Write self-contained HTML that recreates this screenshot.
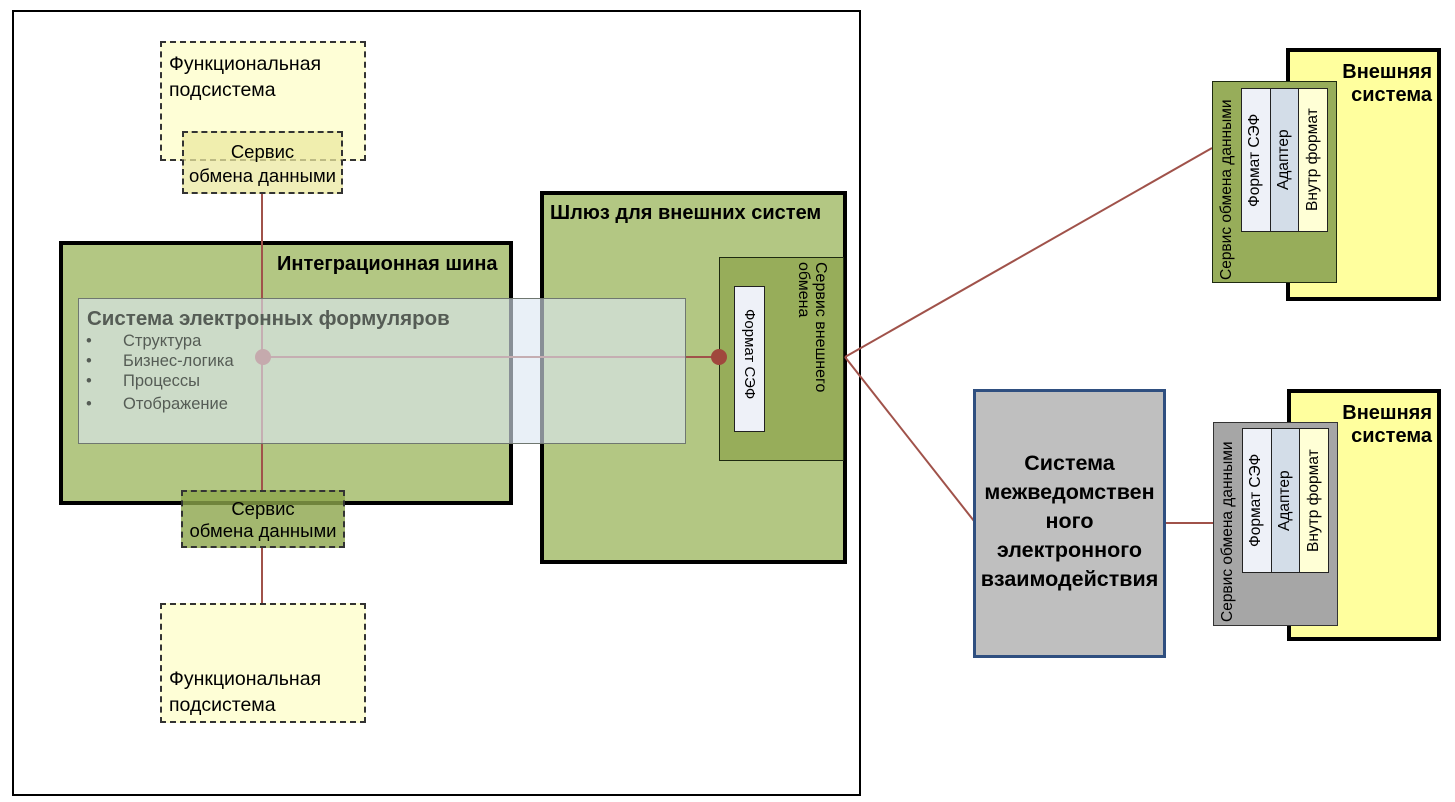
<!DOCTYPE html>
<html><head><meta charset="utf-8"><style>
body{margin:0;width:1455px;height:802px;background:#fff;position:relative;overflow:hidden;font-family:"Liberation Sans",sans-serif;}
.a{position:absolute;box-sizing:border-box;}
.vt{writing-mode:vertical-rl;}
.vb{writing-mode:vertical-rl;transform:rotate(180deg);}
.dash{border:2px dashed #333;}
</style></head><body>
<div class="a" style="left:12px;top:10px;width:849px;height:786px;border:2px solid #000;"></div>

<div class="a dash" style="left:160px;top:41px;width:206px;height:120px;background:#fefed6;padding:8px 0 0 7px;font-size:19.5px;line-height:26px;color:#000;">Функциональная<br>подсистема</div>

<div class="a" style="left:59px;top:241px;width:454px;height:264px;border:4px solid #000;background:#b3c783;"></div>
<div class="a" style="left:277px;top:253px;font-size:20px;font-weight:bold;">Интеграционная шина</div>

<div class="a" style="left:540px;top:191px;width:307px;height:373px;border:4px solid #000;background:#b3c783;"></div>
<div class="a" style="left:550px;top:202px;font-size:20px;font-weight:bold;white-space:nowrap;">Шлюз для внешних систем</div>
<div class="a" style="left:719px;top:257px;width:125px;height:204px;border:1.5px solid #1e2a10;background:#97ad5a;"></div>
<div class="a vt" style="left:795px;top:262px;font-size:16px;line-height:17px;">Сервис внешнего<br>обмена</div>
<div class="a" style="left:734px;top:286px;width:31px;height:146px;border:1.5px solid #222;background:#eef1f8;"></div>
<div class="a vt" style="left:739px;top:309px;font-size:15px;line-height:20px;">Формат СЭФ</div>

<div class="a dash" style="left:182px;top:131px;width:161px;height:63px;background:rgba(235,232,160,0.75);text-align:center;font-size:18.5px;line-height:24px;padding-top:7px;white-space:nowrap;">Сервис<br>обмена данными</div>

<div class="a dash" style="left:181px;top:490px;width:164px;height:58px;background:rgba(140,165,75,0.8);text-align:center;font-size:18.5px;line-height:22px;padding-top:6px;white-space:nowrap;">Сервис<br>обмена данными</div>

<div class="a dash" style="left:160px;top:603px;width:206px;height:120px;background:#fefed6;padding:61px 0 0 7px;font-size:19.5px;line-height:26px;">Функциональная<br>подсистема</div>

<svg class="a" style="left:0;top:0" width="1455" height="802">
<g stroke="#a0524a" stroke-width="2" fill="none">
<line x1="262" y1="194" x2="262" y2="490"/>
<line x1="262" y1="548" x2="262" y2="603"/>
<line x1="262" y1="357" x2="719" y2="357"/>
<line x1="845" y1="357" x2="1212" y2="148"/>
<line x1="845" y1="357" x2="974" y2="521"/>
<line x1="1165" y1="523" x2="1213" y2="523"/>
</g>
<circle cx="719" cy="357" r="8" fill="#a0473d"/>
<circle cx="263" cy="357" r="8" fill="#a0473d"/>
</svg>

<div class="a" style="left:78px;top:298px;width:608px;height:146px;border:1.5px solid #6f7770;background:rgba(220,230,242,0.62);"></div>
<div class="a" style="left:87px;top:307px;font-size:20.5px;font-weight:bold;color:#555c55;white-space:nowrap;">Система электронных формуляров</div>
<div class="a" style="left:86px;top:331px;font-size:16.5px;line-height:20px;color:#555c55;white-space:nowrap;">
<div><span style="display:inline-block;width:37px">•</span>Структура</div>
<div><span style="display:inline-block;width:37px">•</span>Бизнес-логика</div>
<div><span style="display:inline-block;width:37px">•</span>Процессы</div>
<div style="margin-top:3px"><span style="display:inline-block;width:37px">•</span>Отображение</div>
</div>

<div class="a" style="left:973px;top:389px;width:193px;height:269px;border:3px solid #2f4f80;background:#bfbfbf;display:flex;align-items:center;justify-content:center;text-align:center;font-size:21.5px;font-weight:bold;line-height:29px;padding-bottom:4px;white-space:nowrap;">Система<br>межведомствен<br>ного<br>электронного<br>взаимодействия</div>

<!-- ext 1 -->
<div class="a" style="left:1286px;top:48px;width:155px;height:253px;border:4px solid #000;background:#ffff9e;"></div>
<div class="a" style="left:1290px;top:61px;width:142px;text-align:right;font-size:20px;font-weight:bold;line-height:23px;">Внешняя<br>система</div>
<div class="a" style="left:1212px;top:81px;width:125px;height:202px;border:1.5px solid #1e2a10;background:#97ad5a;"></div>
<div class="a vb" style="left:1217px;top:86px;height:194px;font-size:15.5px;line-height:20px;white-space:nowrap;">Сервис обмена данными</div>
<div class="a" style="left:1241px;top:88px;width:30px;height:144px;border:1.5px solid #222;background:#eef1f8;"></div>
<div class="a" style="left:1270px;top:88px;width:29px;height:144px;border:1.5px solid #222;background:#d3dde8;"></div>
<div class="a" style="left:1298px;top:88px;width:30px;height:144px;border:1.5px solid #222;background:#ffffd6;"></div>
<div class="a vb" style="left:1245px;top:97px;height:110px;font-size:15.5px;line-height:20px;white-space:nowrap;">Формат СЭФ</div>
<div class="a vb" style="left:1274px;top:92px;height:136px;font-size:15.5px;line-height:20px;text-align:center;">Адаптер</div>
<div class="a vb" style="left:1303px;top:92px;height:136px;font-size:15.5px;line-height:20px;text-align:center;white-space:nowrap;">Внутр формат</div>

<!-- ext 2 -->
<div class="a" style="left:1287px;top:389px;width:154px;height:252px;border:4px solid #000;background:#ffff9e;"></div>
<div class="a" style="left:1290px;top:402px;width:142px;text-align:right;font-size:20px;font-weight:bold;line-height:23px;">Внешняя<br>система</div>
<div class="a" style="left:1213px;top:422px;width:125px;height:204px;border:1.5px solid #333;background:#a6a6a6;"></div>
<div class="a vb" style="left:1218px;top:428px;height:194px;font-size:15.5px;line-height:20px;white-space:nowrap;">Сервис обмена данными</div>
<div class="a" style="left:1242px;top:428px;width:30px;height:145px;border:1.5px solid #222;background:#eef1f8;"></div>
<div class="a" style="left:1271px;top:428px;width:29px;height:145px;border:1.5px solid #222;background:#d3dde8;"></div>
<div class="a" style="left:1299px;top:428px;width:30px;height:145px;border:1.5px solid #222;background:#ffffd6;"></div>
<div class="a vb" style="left:1246px;top:437px;height:110px;font-size:15.5px;line-height:20px;white-space:nowrap;">Формат СЭФ</div>
<div class="a vb" style="left:1275px;top:432px;height:137px;font-size:15.5px;line-height:20px;text-align:center;">Адаптер</div>
<div class="a vb" style="left:1304px;top:432px;height:137px;font-size:15.5px;line-height:20px;text-align:center;white-space:nowrap;">Внутр формат</div>
</body></html>
